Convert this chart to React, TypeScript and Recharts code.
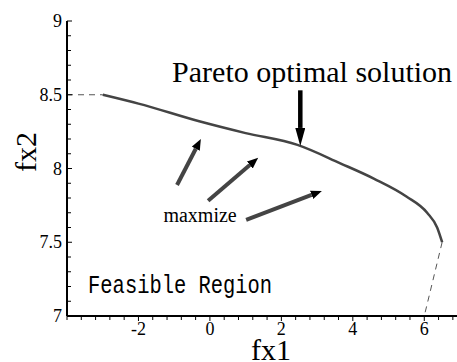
import { LineChart, Line, XAxis, YAxis, ReferenceLine, ReferenceDot, Label } from 'recharts';

// Pareto front
const frontFx1 = [-3, -2, -0.3, 1, 2.45, 3.65, 4.6, 5.5, 6.08, 6.36, 6.5];
const frontFx2 = [8.5, 8.44, 8.32, 8.24, 8.16, 8.035, 7.93, 7.81, 7.7, 7.6, 7.5];

// dashed extensions at both ends
const leftGuide = [{ x: -4, y: 8.5 }, { x: -3, y: 8.5 }];
const rightGuide = [{ x: 6.5, y: 7.5 }, { x: 6, y: 7 }];

// "maxmize" arrows: start -> base of the head
const maxArrows = [
  [{ x: -0.92, y: 7.888 }, { x: -0.395, y: 8.134 }],
  [{ x: -0.05, y: 7.782 }, { x: 1.117, y: 8.024 }],
  [{ x: 1.014, y: 7.651 }, { x: 2.846, y: 7.821 }],
];
const paretoArrow = [{ x: 2.53, y: 8.53 }, { x: 2.53, y: 8.275 }];

const xTicks = [-4, -3.6, -3.2, -2.8, -2.4, -2, -1.6, -1.2, -0.8, -0.4, 0, 0.4, 0.8, 1.2, 1.6, 2, 2.4, 2.8, 3.2, 3.6, 4, 4.4, 4.8, 5.2, 5.6, 6, 6.4, 6.8];
const xLabels = [-2, 0, 2, 4, 6];
const yTicks = [7, 7.1, 7.2, 7.3, 7.4, 7.5, 7.6, 7.7, 7.8, 7.9, 8, 8.1, 8.2, 8.3, 8.4, 8.5, 8.6, 8.7, 8.8, 8.9, 9];
const yLabels = [7, 7.5, 8, 8.5, 9];

const frontData = frontFx1.map((x, i) => ({ x, y: frontFx2[i] }));

const serif = '"Liberation Serif", "Times New Roman", serif';
const serifStyle = { fontFamily: serif };

const XTick = (props: any) => {
  const { x, y, payload } = props;
  const major = xLabels.includes(payload.value);
  return (
    <g>
      <line x1={x} y1={y} x2={x} y2={y + (major ? 5 : 4)} stroke="#000" strokeWidth={1} />
      {major && (
        <text x={x} y={y + 19} textAnchor="middle" style={serifStyle} fontSize={18} fill="#000">
          {payload.value}
        </text>
      )}
    </g>
  );
};

const YTick = (props: any) => {
  const { x, y, payload } = props;
  const major = yLabels.includes(payload.value);
  return (
    <g>
      <line x1={x} y1={y} x2={x + (major ? 5 : 4)} y2={y} stroke="#000" strokeWidth={1} />
      {major && (
        <text x={x - 5} y={y + 6} textAnchor="end" style={serifStyle} fontSize={18} fill="#000">
          {payload.value}
        </text>
      )}
    </g>
  );
};

const App = () => {
  return (
    <div style={{ position: 'absolute', left: 0, top: 0, width: 457, height: 362, overflow: 'hidden', background: '#fff', fontFamily: serif }}>
      <svg width={0} height={0} style={{ position: 'absolute' }}>
        <defs>
          <marker id="headSmall" markerUnits="userSpaceOnUse" markerWidth={12} markerHeight={10} refX={0} refY={4.5} orient="auto">
            <path d="M0,0 L11,4.5 L0,9 z" fill="#000" />
          </marker>
          <marker id="headBig" markerUnits="userSpaceOnUse" markerWidth={19} markerHeight={11} refX={0} refY={5} orient="auto">
            <path d="M0,0 L18,5 L0,10 z" fill="#000" />
          </marker>
        </defs>
      </svg>
      <LineChart width={470} height={362} margin={{ top: 21, right: 10, left: 0, bottom: 0 }}>
        <XAxis
          type="number"
          dataKey="x"
          domain={[-4, 7]}
          ticks={xTicks}
          interval={0}
          height={46}
          tickSize={0}
          tickMargin={0}
          tickLine={false}
          tick={<XTick />}
          axisLine={{ stroke: '#000', strokeWidth: 2 }}
          allowDataOverflow
        >
          <Label
            content={(p: any) => (
              <text x={p.viewBox.x + 204} y={p.viewBox.y + 44} textAnchor="middle" style={serifStyle} fontSize={30} fill="#000">
                fx1
              </text>
            )}
          />
        </XAxis>
        <YAxis
          type="number"
          domain={[7, 9]}
          ticks={yTicks}
          interval={0}
          width={67}
          tickSize={0}
          tickMargin={0}
          tickLine={false}
          tick={<YTick />}
          axisLine={{ stroke: '#000', strokeWidth: 2 }}
          allowDataOverflow
        >
          <Label
            content={(p: any) => {
              const cx = p.viewBox.x + 36;
              const cy = p.viewBox.y + 131;
              return (
                <text x={cx} y={cy} transform={`rotate(-90, ${cx}, ${cy})`} textAnchor="middle" style={serifStyle} fontSize={30} fill="#000">
                  fx2
                </text>
              );
            }}
          />
        </YAxis>

        <Line data={leftGuide} dataKey="y" type="linear" stroke="#555" strokeWidth={1} strokeDasharray="6 5" dot={false} activeDot={false} isAnimationActive={false} />
        <Line data={rightGuide} dataKey="y" type="linear" stroke="#555" strokeWidth={1} strokeDasharray="6 5" dot={false} activeDot={false} isAnimationActive={false} />
        <Line data={frontData} dataKey="y" type="monotone" stroke="#444" strokeWidth={2.5} dot={false} activeDot={false} isAnimationActive={false} />

        {maxArrows.map((seg, i) => (
          <ReferenceLine key={i} segment={seg} stroke="#444" strokeWidth={4} markerEnd="url(#headSmall)" />
        ))}
        <ReferenceLine segment={paretoArrow} stroke="#000" strokeWidth={4.5} markerEnd="url(#headBig)" />

        <ReferenceDot x={2.86} y={8.586} r={0} fill="none" stroke="none">
          <Label
            content={(p: any) => (
              <text x={p.viewBox.x + p.viewBox.width / 2} y={p.viewBox.y + p.viewBox.height / 2} textAnchor="middle" style={serifStyle} fontSize={30} fill="#000">
                Pareto optimal solution
              </text>
            )}
          />
        </ReferenceDot>
        <ReferenceDot x={-0.275} y={7.637} r={0} fill="none" stroke="none">
          <Label
            content={(p: any) => (
              <text x={p.viewBox.x + p.viewBox.width / 2} y={p.viewBox.y + p.viewBox.height / 2} textAnchor="middle" style={serifStyle} fontSize={20} fill="#000">
                maxmize
              </text>
            )}
          />
        </ReferenceDot>
        <ReferenceDot x={-3.41} y={7.156} r={0} fill="none" stroke="none">
          <Label
            content={(p: any) => (
              <text
                x={p.viewBox.x + p.viewBox.width / 2}
                y={p.viewBox.y + p.viewBox.height / 2}
                textAnchor="start"
                style={{ fontFamily: '"Liberation Mono", "DejaVu Sans Mono", monospace' }}
                fontSize={25}
                textLength={184}
                lengthAdjust="spacingAndGlyphs"
                fill="#000"
              >
                Feasible Region
              </text>
            )}
          />
        </ReferenceDot>
      </LineChart>
    </div>
  );
};

export default App;
